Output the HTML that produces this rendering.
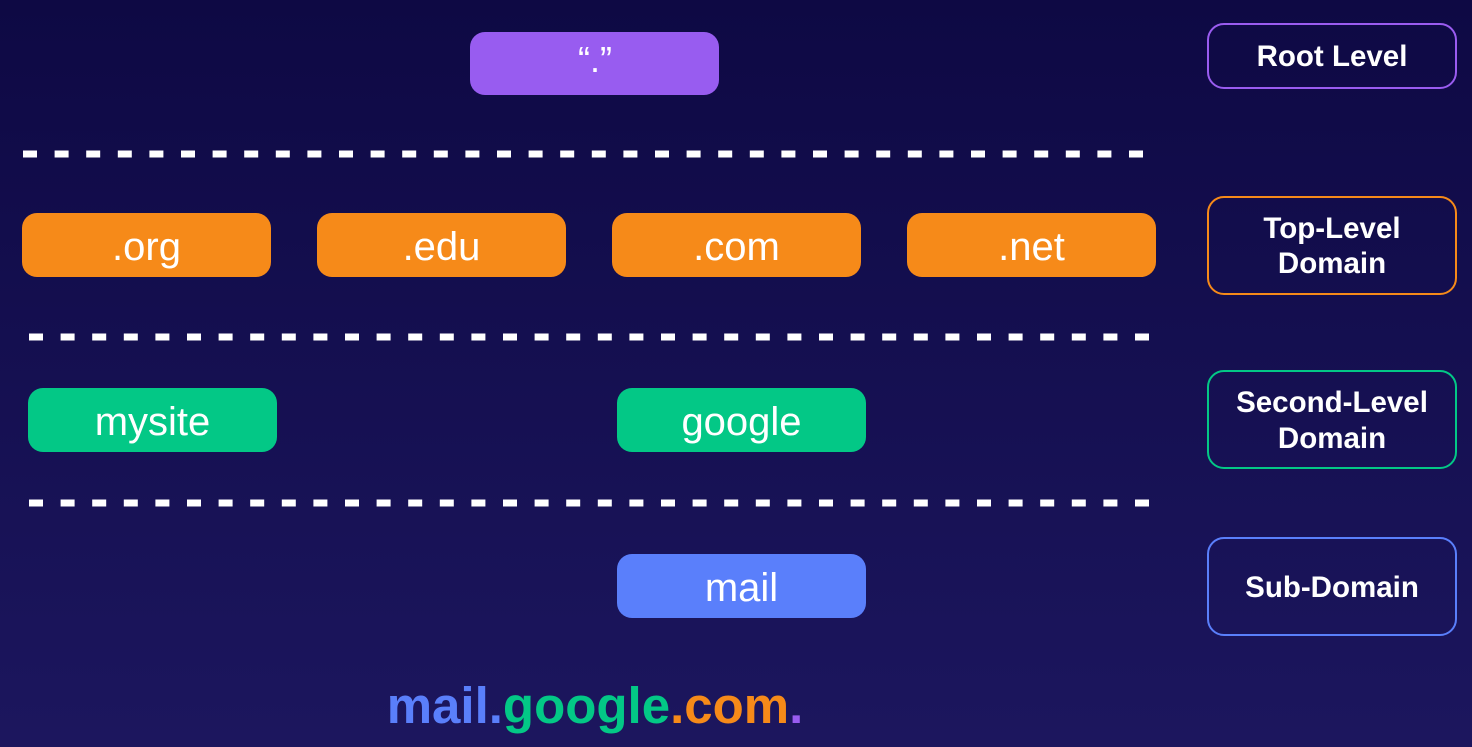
<!DOCTYPE html>
<html><head><meta charset="utf-8"><style>
html,body{margin:0;padding:0;width:1472px;height:747px;overflow:hidden}
svg{display:block}
</style></head><body>
<svg width="1472" height="747" viewBox="0 0 1472 747" xmlns="http://www.w3.org/2000/svg">
<defs>
<linearGradient id="bg" x1="0" y1="0" x2="0" y2="1">
<stop offset="0" stop-color="#0e0944"/><stop offset="1" stop-color="#1c165e"/>
</linearGradient>
</defs>
<rect width="1472" height="747" fill="url(#bg)"/>
<g stroke="#ffffff" stroke-width="7" stroke-dasharray="14 17.6">
<line x1="23" y1="154" x2="1148" y2="154"/>
<line x1="29" y1="337" x2="1154" y2="337"/>
<line x1="29" y1="503" x2="1154" y2="503"/>
</g>
<g font-family="Liberation Sans, sans-serif" font-size="40" fill="#ffffff" text-anchor="middle">
<rect x="470" y="32" width="249" height="63" rx="15" fill="#985cf0"/>
<text x="595" y="72" font-size="36">“.”</text>
<rect x="22" y="213" width="249" height="64" rx="15" fill="#f68a19"/>
<text x="146.5" y="260">.org</text>
<rect x="317" y="213" width="249" height="64" rx="15" fill="#f68a19"/>
<text x="441.5" y="260">.edu</text>
<rect x="612" y="213" width="249" height="64" rx="15" fill="#f68a19"/>
<text x="736.5" y="260">.com</text>
<rect x="907" y="213" width="249" height="64" rx="15" fill="#f68a19"/>
<text x="1031.5" y="260">.net</text>
<rect x="28" y="388" width="249" height="64" rx="15" fill="#03c886"/>
<text x="152.5" y="435">mysite</text>
<rect x="617" y="388" width="249" height="64" rx="15" fill="#03c886"/>
<text x="741.5" y="435">google</text>
<rect x="617" y="554" width="249" height="64" rx="15" fill="#5a7ffb"/>
<text x="741.5" y="601">mail</text>
</g>
<g fill="none" stroke-width="2">
<rect x="1208" y="24" width="248" height="64" rx="16" stroke="#9a5cf0"/>
<rect x="1208" y="197" width="248" height="97" rx="16" stroke="#f68a19"/>
<rect x="1208" y="371" width="248" height="97" rx="16" stroke="#03c886"/>
<rect x="1208" y="538" width="248" height="97" rx="16" stroke="#5a7ffb"/>
</g>
<g font-family="Liberation Sans, sans-serif" font-weight="bold" font-size="29.5" fill="#ffffff" text-anchor="middle">
<text x="1332" y="66">Root Level</text>
<text x="1332" y="238">Top-Level</text>
<text x="1332" y="273">Domain</text>
<text x="1332" y="412">Second-Level</text>
<text x="1332" y="448">Domain</text>
<text x="1332" y="597">Sub-Domain</text>
</g>
<text x="595" y="723" font-family="Liberation Sans, sans-serif" font-weight="bold" font-size="51" text-anchor="middle"><tspan fill="#5a7ffb">mail.</tspan><tspan fill="#03c886">google</tspan><tspan fill="#f68a19">.com</tspan><tspan fill="#985cf0">.</tspan></text>
</svg>
</body></html>
